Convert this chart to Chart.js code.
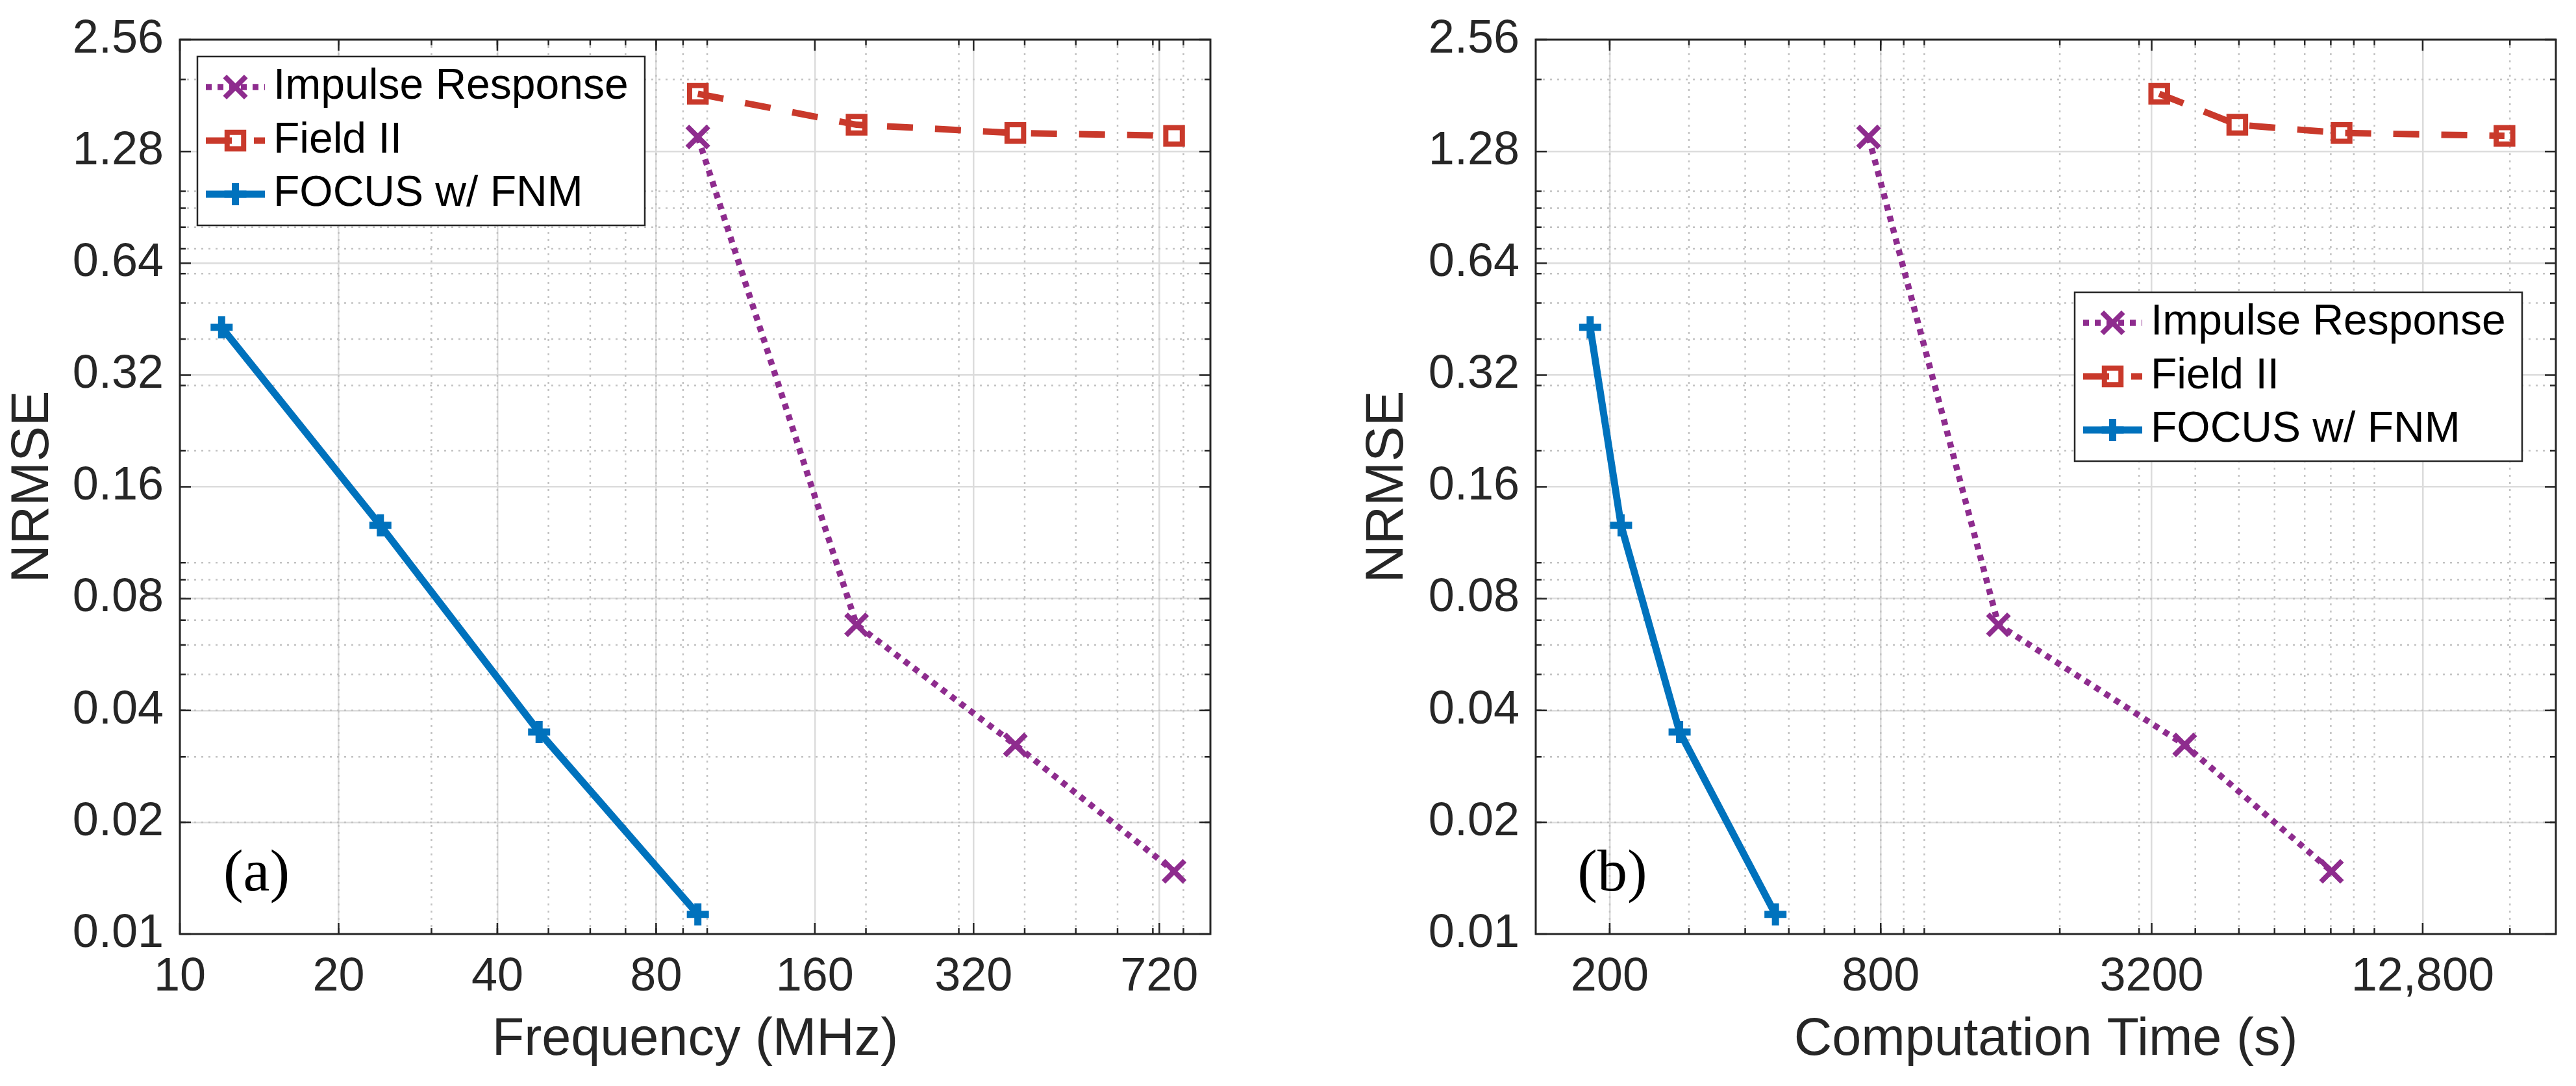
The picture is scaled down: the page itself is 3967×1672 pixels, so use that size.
<!DOCTYPE html>
<html><head><meta charset="utf-8">
<script src="https://cdn.jsdelivr.net/npm/chart.js@4.4.1/dist/chart.umd.min.js"></script>
<style>
html,body{margin:0;padding:0;background:#fff;}
#wrap{position:relative;width:3967px;height:1672px;overflow:hidden;}
.pane{position:absolute;top:0;height:1672px;}
</style></head><body>
<div id="wrap">
  <div class="pane" style="left:0;width:1984px"><canvas id="ca"></canvas></div>
  <div class="pane" style="left:1984px;width:1983px"><canvas id="cb"></canvas></div>
</div>
<script>
// ---------------- data ----------------
const seriesNames = ['Impulse Response', 'Field II', 'FOCUS w/ FNM'];
const freqIR    = [96, 192, 384, 768];
const freqField = [96, 192, 384, 768];
const freqFocus = [12, 24, 48, 96];
const nrmseIR    = [1.40, 0.068, 0.0323, 0.01475];
const nrmseField = [1.83, 1.51, 1.435, 1.41];
const nrmseFocus = [0.43, 0.126, 0.035, 0.0113];
const timeIR    = [752, 1461, 3789, 8029];
const timeField = [3326, 4959, 8453, 19452];
const timeFocus = [181, 212, 286, 467];
const yTicks      = [0.01, 0.02, 0.04, 0.08, 0.16, 0.32, 0.64, 1.28, 2.56];
const yTickLabels = ['0.01', '0.02', '0.04', '0.08', '0.16', '0.32', '0.64', '1.28', '2.56'];
const freqTicks      = [10, 20, 40, 80, 160, 320, 720];
const freqTickLabels = ['10', '20', '40', '80', '160', '320', '720'];
const timeTicks      = [200, 800, 3200, 12800];
const timeTickLabels = ['200', '800', '3200', '12,800'];
const yRange    = [0.01, 2.56];
const freqRange = [10, 900];
const timeRange = [137, 25300];

// ---------------- styling ----------------
const FONT = "'Liberation Sans', Arial, Helvetica, sans-serif";
const AX = '#262626';
Chart.defaults.font.family = FONT;
Chart.defaults.color = AX;

const COL_IR = '#8E2C8E', COL_FIELD = '#C9392B', COL_FOCUS = '#0072BD';

function pts(xs, ys) { return xs.map((x, i) => ({ x: x, y: ys[i] })); }

function makeDatasets(xIR, xField, xFocus) {
  const common = { tension: 0, fill: false, borderCapStyle: 'butt', borderJoinStyle: 'miter',
                   pointBackgroundColor: 'rgba(0,0,0,0)', pointHoverBackgroundColor: 'rgba(0,0,0,0)' };
  return [
    Object.assign({}, common, { label: seriesNames[0], data: pts(xIR, nrmseIR), borderColor: COL_IR, borderWidth: 9.5,
      pointBorderColor: COL_IR, borderDash: [9, 9], pointStyle: 'crossRot', pointRadius: 23, pointHoverRadius: 23, pointBorderWidth: 8 }),
    Object.assign({}, common, { label: seriesNames[1], data: pts(xField, nrmseField), borderColor: COL_FIELD, borderWidth: 10,
      pointBorderColor: COL_FIELD, borderDash: [40, 34], pointStyle: 'rect', pointRadius: 18, pointHoverRadius: 18, pointBorderWidth: 8 }),
    Object.assign({}, common, { label: seriesNames[2], data: pts(xFocus, nrmseFocus), borderColor: COL_FOCUS, borderWidth: 11,
      pointBorderColor: COL_FOCUS, borderDash: [], pointStyle: 'cross', pointRadius: 17, pointHoverRadius: 17, pointBorderWidth: 11 })
  ];
}

function minorVals(min, max) {
  const out = [];
  for (let e = Math.floor(Math.log10(min)) - 1; e <= Math.ceil(Math.log10(max)); e++) {
    for (let n = 1; n < 10; n++) {
      const v = n * Math.pow(10, e);
      if (v > min * 1.0001 && v < max * 0.9999) out.push(v);
    }
  }
  return out;
}

function drawMarker(ctx, ds, x, y) {
  const r = ds.pointRadius;
  ctx.beginPath();
  if (ds.pointStyle === 'cross') {
    ctx.moveTo(x, y - r); ctx.lineTo(x, y + r); ctx.moveTo(x - r, y); ctx.lineTo(x + r, y);
  } else if (ds.pointStyle === 'crossRot') {
    const d = r * Math.SQRT1_2;
    ctx.moveTo(x - d, y - d); ctx.lineTo(x + d, y + d); ctx.moveTo(x - d, y + d); ctx.lineTo(x + d, y - d);
  } else {
    const s = r * Math.SQRT1_2;
    ctx.rect(x - s, y - s, 2 * s, 2 * s);
  }
  ctx.stroke();
}

const matlabAxes = {
  id: 'matlabAxes',
  beforeDatasetsDraw(chart) {
    const { ctx, chartArea: ca, scales } = chart;
    const x = scales.x, y = scales.y;
    ctx.save();
    // minor dotted grid
    ctx.strokeStyle = '#c2c2c2'; ctx.lineWidth = 2.5; ctx.setLineDash([3, 8]);
    minorVals(x.min, x.max).forEach(v => {
      const px = x.getPixelForValue(v);
      ctx.beginPath(); ctx.moveTo(px, ca.bottom); ctx.lineTo(px, ca.top); ctx.stroke();
    });
    minorVals(y.min, y.max).forEach(v => {
      const py = y.getPixelForValue(v);
      ctx.beginPath(); ctx.moveTo(ca.left, py); ctx.lineTo(ca.right, py); ctx.stroke();
    });
    ctx.setLineDash([]);
    // tick marks (inside, on all four sides)
    ctx.strokeStyle = AX; ctx.lineWidth = 2.5;
    const xMaj = x.ticks.map(t => t.value), yMaj = y.ticks.map(t => t.value);
    const tickX = (v, len) => { const px = x.getPixelForValue(v);
      ctx.beginPath(); ctx.moveTo(px, ca.bottom); ctx.lineTo(px, ca.bottom - len);
      ctx.moveTo(px, ca.top); ctx.lineTo(px, ca.top + len); ctx.stroke(); };
    const tickY = (v, len) => { const py = y.getPixelForValue(v);
      ctx.beginPath(); ctx.moveTo(ca.left, py); ctx.lineTo(ca.left + len, py);
      ctx.moveTo(ca.right, py); ctx.lineTo(ca.right - len, py); ctx.stroke(); };
    minorVals(x.min, x.max).forEach(v => tickX(v, 9));
    minorVals(y.min, y.max).forEach(v => tickY(v, 9));
    xMaj.forEach(v => tickX(v, 17));
    yMaj.forEach(v => tickY(v, 17));
    // frame
    ctx.lineWidth = 3;
    ctx.strokeRect(ca.left, ca.top, ca.right - ca.left, ca.bottom - ca.top);
    ctx.restore();
  },
  afterDraw(chart, args, opts) {
    const { ctx, chartArea: ca } = chart;
    ctx.save();
    // legend
    const W = 689, H = 260;
    const bx = opts.corner === 'tl' ? ca.left + opts.dx : ca.right - opts.dx - W;
    const by = ca.top + opts.dy;
    ctx.fillStyle = '#ffffff'; ctx.fillRect(bx, by, W, H);
    ctx.strokeStyle = AX; ctx.lineWidth = 2.5; ctx.strokeRect(bx, by, W, H);
    chart.data.datasets.forEach((ds, i) => {
      const cy = by + 47 + i * 82.5;
      ctx.save();
      ctx.strokeStyle = ds.borderColor; ctx.lineWidth = ds.borderWidth; ctx.lineCap = 'butt';
      ctx.setLineDash(ds.borderDash || []);
      ctx.beginPath(); ctx.moveTo(bx + 13, cy); ctx.lineTo(bx + 104, cy); ctx.stroke();
      ctx.setLineDash([]);
      ctx.lineWidth = ds.pointBorderWidth; ctx.strokeStyle = ds.pointBorderColor;
      drawMarker(ctx, ds, bx + 58.5, cy);
      ctx.restore();
      ctx.fillStyle = '#000000'; ctx.font = '66px ' + FONT;
      ctx.textAlign = 'left'; ctx.textBaseline = 'middle';
      ctx.fillText(ds.label, bx + 117, cy);
    });
    // panel label
    ctx.fillStyle = '#000000'; ctx.font = "92px 'Liberation Serif', 'Times New Roman', serif";
    ctx.textAlign = 'center'; ctx.textBaseline = 'middle';
    ctx.fillText(opts.panel, ca.left + 118, ca.bottom - 91);
    ctx.restore();
  }
};

function makeChart(canvasId, cfg) {
  return new Chart(document.getElementById(canvasId), {
    type: 'line',
    data: { datasets: cfg.datasets },
    options: {
      responsive: true, maintainAspectRatio: false, animation: false, devicePixelRatio: 1,
      events: [],
      layout: { padding: cfg.padding },
      plugins: { legend: { display: false }, tooltip: { enabled: false },
                 matlabAxes: cfg.legend },
      scales: {
        x: {
          type: 'logarithmic', position: 'bottom', min: cfg.xRange[0], max: cfg.xRange[1],
          afterBuildTicks: s => { s.ticks = cfg.xTicks.map(v => ({ value: v })); },
          afterFit: s => { s.height = 234; },
          ticks: { autoSkip: false, maxRotation: 0, minRotation: 0, padding: 31, color: AX,
                   font: { size: 72, lineHeight: 1 }, callback: (v, i) => cfg.xLabels[i] },
          grid: { color: '#dcdcdc', lineWidth: 2.5, drawTicks: false },
          border: { display: false },
          title: { display: true, text: cfg.xTitle, color: AX, font: { size: 81, lineHeight: 1 },
                   padding: { top: 0, bottom: 30 } }
        },
        y: {
          type: 'logarithmic', position: 'left', min: yRange[0], max: yRange[1],
          afterBuildTicks: s => { s.ticks = yTicks.map(v => ({ value: v })); },
          afterFit: s => { s.width = cfg.yWidth; },
          ticks: { autoSkip: false, padding: 25, color: AX, font: { size: 72, lineHeight: 1 },
                   callback: (v, i) => yTickLabels[i] },
          grid: { color: '#dcdcdc', lineWidth: 2.5, drawTicks: false },
          border: { display: false },
          title: { display: true, text: 'NRMSE', color: AX, font: { size: 82, lineHeight: 1 },
                   padding: { top: 10, bottom: 0 } }
        }
      }
    },
    plugins: [matlabAxes]
  });
}

makeChart('ca', {
  datasets: makeDatasets(freqIR, freqField, freqFocus),
  xRange: freqRange, xTicks: freqTicks, xLabels: freqTickLabels, xTitle: 'Frequency (MHz)',
  padding: { left: 0, right: 120, top: 51, bottom: 0 }, yWidth: 277,
  legend: { corner: 'tl', dx: 27, dy: 26, panel: '(a)' }
});
makeChart('cb', {
  datasets: makeDatasets(timeIR, timeField, timeFocus),
  xRange: timeRange, xTicks: timeTicks, xLabels: timeTickLabels, xTitle: 'Computation Time (s)',
  padding: { left: 102, right: 17, top: 51, bottom: 0 }, yWidth: 279,
  legend: { corner: 'tr', dx: 52, dy: 389, panel: '(b)' }
});
</script>
</body></html>
